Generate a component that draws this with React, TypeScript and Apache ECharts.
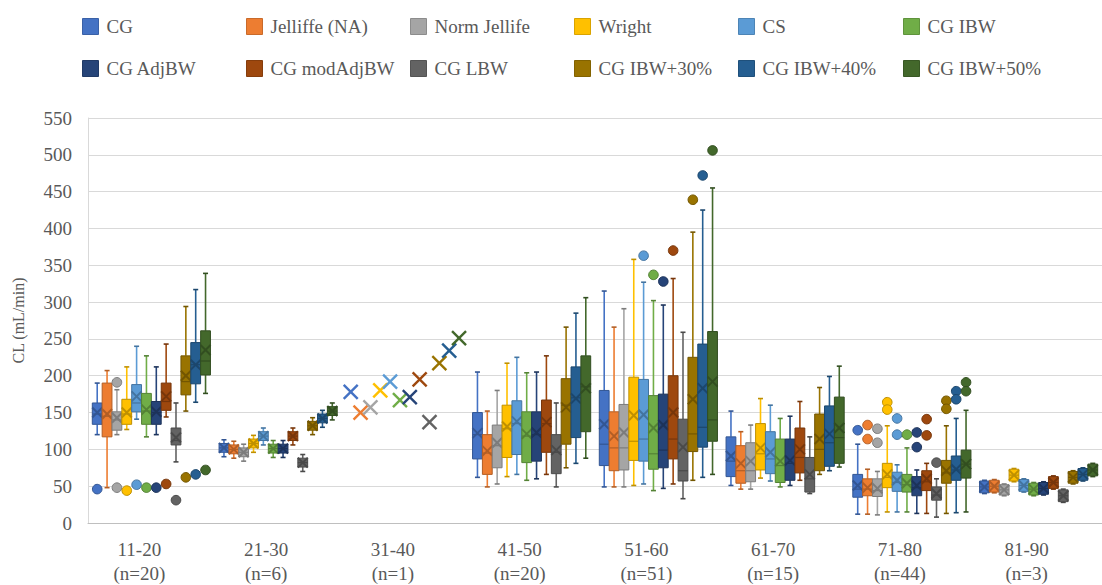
import React, { useEffect, useRef } from 'react';
import * as echarts from 'echarts';

const categories = ['11-20\n(n=20)', '21-30\n(n=6)', '31-40\n(n=1)', '41-50\n(n=20)', '51-60\n(n=51)', '61-70\n(n=15)', '71-80\n(n=44)', '81-90\n(n=3)'];
const seriesNames = ['CG', 'Jelliffe (NA)', 'Norm Jellife', 'Wright', 'CS', 'CG IBW', 'CG AdjBW', 'CG modAdjBW', 'CG LBW', 'CG IBW+30%', 'CG IBW+40%', 'CG IBW+50%'];
const colors = ['#4472C4', '#ED7D31', '#A5A5A5', '#FFC000', '#5B9BD5', '#70AD47', '#264478', '#9E480E', '#636363', '#997300', '#255E91', '#43682B'];
const yTicks = { min: 0, max: 550, interval: 50 };

// each row: [min, q1, median, q3, max, mean] for one age group
const cgStats = [[120, 134, 148, 163, 190, 150], [90, 96, 102, 108, 113, 102], [178, 178, 178, 178, 178, 178], [62, 87, 120, 150, 205, 122], [49, 78, 107, 180, 315, 134], [51, 63, 84, 117, 152, 91], [12, 35, 46, 66, 107, 51], [40, 41, 49, 57, 58, 49]];
const cgOut = [[46], [], [], [], [], [], [126], []];

const jelliffeStats = [[48, 117, 145, 190, 207, 148], [88, 94, 100, 106, 111, 100], [150, 150, 150, 150, 150, 150], [49, 66, 95, 120, 152, 98], [49, 71, 102, 151, 266, 118], [46, 54, 71, 105, 124, 81], [12, 37, 46, 60, 73, 48], [41, 42, 50, 58, 59, 50]];
const jelliffeOut = [[], [], [], [], [], [], [133, 114], []];

const normJelliffeStats = [[120, 126, 140, 151, 181, 143], [84, 90, 96, 102, 107, 96], [157, 157, 157, 157, 157, 157], [53, 75, 105, 133, 180, 109], [49, 72, 102, 161, 291, 123], [46, 56, 71, 109, 133, 84], [11, 36, 44, 60, 70, 47], [37, 38, 45, 52, 53, 45]];
const normJelliffeOut = [[191, 48], [], [], [], [], [], [128, 109], []];

const wrightStats = [[127, 134, 148, 168, 212, 150], [96, 102, 108, 114, 119, 108], [180, 180, 180, 180, 180, 180], [63, 89, 128, 160, 217, 131], [51, 85, 111, 198, 358, 146], [61, 72, 94, 135, 169, 102], [15, 48, 62, 81, 132, 66], [56, 57, 65, 73, 74, 65]];
const wrightOut = [[44], [], [], [], [], [], [164, 154], []];

const csStats = [[141, 151, 163, 188, 240, 172], [106, 112, 118, 124, 129, 118], [192, 192, 192, 192, 192, 192], [66, 93, 135, 166, 225, 138], [53, 84, 114, 195, 327, 147], [57, 67, 87, 124, 160, 96], [15, 43, 55, 69, 79, 58], [42, 43, 51, 59, 60, 51]];
const csOut = [[52], [], [], [], [363], [], [142, 120], []];

const cgIbwStats = [[117, 134, 152, 176, 227, 154], [89, 95, 101, 107, 112, 101], [167, 167, 167, 167, 167, 167], [58, 82, 118, 151, 204, 121], [44, 73, 94, 173, 302, 129], [49, 55, 78, 114, 142, 84], [15, 42, 52, 66, 102, 54], [37, 38, 46, 54, 55, 46]];
const cgIbwOut = [[48], [], [], [], [337], [], [120], []];

const cgAdjStats = [[120, 134, 150, 165, 212, 151], [89, 95, 101, 107, 112, 101], [171, 171, 171, 171, 171, 171], [60, 84, 120, 151, 205, 123], [47, 75, 99, 175, 296, 133], [51, 58, 81, 114, 145, 85], [13, 37, 48, 63, 72, 51], [38, 39, 47, 55, 56, 47]];
const cgAdjOut = [[48], [], [], [], [328], [], [123, 103], []];

const cgModAdjStats = [[144, 153, 165, 190, 243, 172], [106, 112, 118, 124, 129, 118], [195, 195, 195, 195, 195, 195], [66, 96, 135, 167, 227, 137], [53, 87, 114, 200, 332, 150], [58, 68, 89, 129, 165, 100], [13, 44, 56, 71, 81, 60], [46, 47, 55, 63, 64, 55]];
const cgModAdjOut = [[53], [], [], [], [370], [], [141, 119], []];

const cgLbwStats = [[83, 106, 112, 129, 163, 116], [70, 76, 82, 88, 93, 82], [137, 137, 137, 137, 137, 137], [49, 67, 96, 120, 163, 99], [33, 57, 71, 141, 259, 103], [40, 42, 60, 89, 117, 66], [8, 31, 38, 49, 60, 40], [28, 29, 37, 45, 46, 37]];
const cgLbwOut = [[31], [], [], [], [], [], [82], []];

const ibw30Stats = [[152, 174, 192, 227, 294, 200], [120, 126, 132, 138, 143, 132], [217, 217, 217, 217, 217, 217], [75, 107, 160, 196, 266, 157], [58, 97, 121, 225, 395, 168], [66, 71, 100, 148, 184, 114], [13, 54, 68, 85, 132, 71], [53, 54, 62, 70, 71, 62]];
const ibw30Out = [[62], [], [], [], [439], [], [166, 155], []];

const ibw40Stats = [[164, 189, 215, 245, 317, 215], [130, 136, 142, 148, 153, 142], [234, 234, 234, 234, 234, 234], [81, 116, 170, 212, 285, 169], [62, 103, 130, 243, 425, 183], [71, 77, 109, 159, 199, 121], [14, 58, 72, 91, 142, 73], [57, 58, 66, 74, 75, 66]];
const ibw40Out = [[66], [], [], [], [472], [], [179, 168], []];

const ibw50Stats = [[176, 201, 220, 261, 339, 235], [140, 146, 152, 158, 163, 152], [251, 251, 251, 251, 251, 251], [88, 124, 185, 227, 306, 183], [66, 111, 140, 260, 455, 192], [76, 81, 116, 171, 213, 129], [15, 61, 80, 99, 153, 80], [63, 64, 72, 80, 81, 72]];
const ibw50Out = [[72], [], [], [], [506], [], [191, 179], []];

const allStats = [cgStats, jelliffeStats, normJelliffeStats, wrightStats, csStats, cgIbwStats, cgAdjStats, cgModAdjStats, cgLbwStats, ibw30Stats, ibw40Stats, ibw50Stats];
const allOut = [cgOut, jelliffeOut, normJelliffeOut, wrightOut, csOut, cgIbwOut, cgAdjOut, cgModAdjOut, cgLbwOut, ibw30Out, ibw40Out, ibw50Out];

const FONT = "'Liberation Serif', 'Times New Roman', serif";
const TEXT = '#595959';

function darken(hex: string, f: number) {
  const n = parseInt(hex.slice(1), 16);
  const r = Math.round(((n >> 16) & 255) * (1 - f));
  const g = Math.round(((n >> 8) & 255) * (1 - f));
  const b = Math.round((n & 255) * (1 - f));
  return `rgb(${r},${g},${b})`;
}

const legendPos = [
  [82, 17], [246, 17], [410, 17], [574, 17], [738, 17], [903, 17],
  [82, 59], [246, 59], [410, 59], [574, 59], [738, 59], [903, 59],
];

export default function App() {
  const ref = useRef<HTMLDivElement>(null);
  useEffect(() => {
    document.body.style.margin = '0';
    const chart = echarts.init(ref.current!, null, { renderer: 'svg' });

    const makeRender = (si: number) => (params: any, api: any) => {
      const ci = api.value(0);
      const mn = api.value(1), q1 = api.value(2), md = api.value(3), q3 = api.value(4), mx = api.value(5), mean = api.value(6);
      const band = api.size([1, 0])[0];
      const step = band * 0.0777;
      const cx = api.coord([ci, 0])[0] + (si - 5.5) * step;
      const Y = (v: number) => api.coord([ci, v])[1];
      const col = colors[si];
      const dk = darken(col, 0.25);
      const half = 4.9;
      const children: any[] = [];
      if (mx > mn) {
        children.push({ type: 'line', shape: { x1: cx, y1: Y(mx), x2: cx, y2: Y(q3) }, style: { stroke: col, lineWidth: 1.6 } });
        children.push({ type: 'line', shape: { x1: cx, y1: Y(q1), x2: cx, y2: Y(mn) }, style: { stroke: col, lineWidth: 1.6 } });
        children.push({ type: 'line', shape: { x1: cx - 2.5, y1: Y(mx), x2: cx + 2.5, y2: Y(mx) }, style: { stroke: dk, lineWidth: 1.6 } });
        children.push({ type: 'line', shape: { x1: cx - 2.5, y1: Y(mn), x2: cx + 2.5, y2: Y(mn) }, style: { stroke: dk, lineWidth: 1.6 } });
      }
      if (q3 > q1) {
        children.push({ type: 'rect', shape: { x: cx - half, y: Y(q3), width: half * 2, height: Y(q1) - Y(q3) }, style: { fill: col, stroke: dk, lineWidth: 1 } });
        children.push({ type: 'line', shape: { x1: cx - half, y1: Y(md), x2: cx + half, y2: Y(md) }, style: { stroke: dk, lineWidth: 1.2 } });
      }
      const ym = Y(mean);
      const single = !(mx > mn);
      const xs = single ? 7 : 5;
      const xc = single ? col : dk;
      const xw = single ? 2.4 : 2;
      children.push({ type: 'line', shape: { x1: cx - xs, y1: ym - xs, x2: cx + xs, y2: ym + xs }, style: { stroke: xc, lineWidth: xw } });
      children.push({ type: 'line', shape: { x1: cx - xs, y1: ym + xs, x2: cx + xs, y2: ym - xs }, style: { stroke: xc, lineWidth: xw } });
      (allOut[si][ci] || []).forEach((v: number) => {
        children.push({ type: 'circle', shape: { cx, cy: Y(v), r: 4.8 }, style: { fill: col, stroke: dk, lineWidth: 1 } });
      });
      return { type: 'group', children };
    };

    const series = seriesNames.map((name, si) => ({
      name,
      type: 'custom',
      renderItem: makeRender(si),
      itemStyle: { color: colors[si] },
      encode: { x: 0, y: [1, 2, 3, 4, 5, 6] },
      data: allStats[si].map((s, ci) => [ci, ...s]),
      z: 2,
    }));

    const legends = seriesNames.map((name, i) => ({
      show: true,
      left: legendPos[i][0],
      top: legendPos[i][1],
      data: [name],
      icon: 'rect',
      itemWidth: 16,
      itemHeight: 16,
      selectedMode: false,
      itemStyle: { borderColor: darken(colors[i], 0.15), borderWidth: 1 },
      textStyle: { fontFamily: FONT, fontSize: 19, color: TEXT, padding: [0, 0, 0, 3], lineHeight: 18 },
      padding: 0,
    }));

    chart.setOption({
      animation: false,
      backgroundColor: '#ffffff',
      legend: legends,
      grid: { left: 88, right: -6, top: 118, bottom: 59, containLabel: false },
      xAxis: {
        type: 'category',
        data: categories,
        axisTick: { show: false },
        axisLine: { lineStyle: { color: '#BFBFBF', width: 1 } },
        axisLabel: { fontFamily: FONT, fontSize: 19, color: TEXT, lineHeight: 24, margin: 14, padding: [0, 24, 0, 0] },
        splitLine: { show: false },
      },
      yAxis: {
        type: 'value',
        min: yTicks.min,
        max: yTicks.max,
        interval: yTicks.interval,
        name: 'CL (mL/min)',
        nameLocation: 'middle',
        nameGap: 62,
        nameTextStyle: { fontFamily: FONT, fontSize: 16, color: TEXT },
        axisLine: { show: true, lineStyle: { color: '#D9D9D9' } },
        axisTick: { show: false },
        axisLabel: { fontFamily: FONT, fontSize: 19, color: TEXT, margin: 16 },
        splitLine: { lineStyle: { color: '#D9D9D9', width: 1 } },
      },
      series,
    });
    return () => chart.dispose();
  }, []);
  return <div ref={ref} style={{ width: 1102, height: 585 }} />;
}
